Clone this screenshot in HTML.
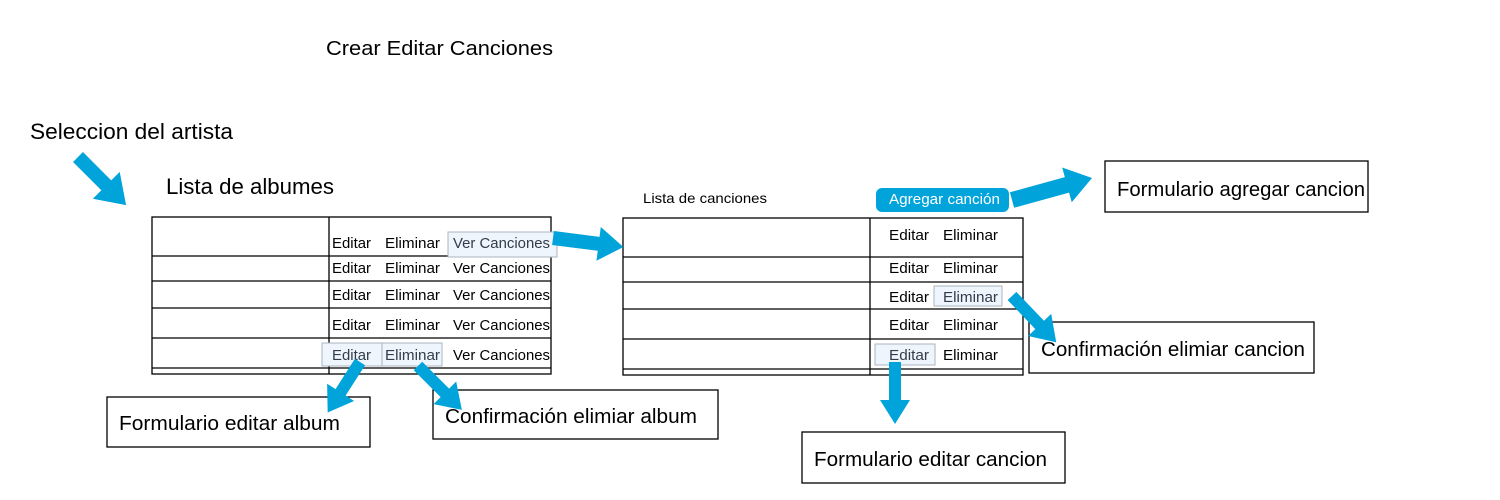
<!DOCTYPE html>
<html><head><meta charset="utf-8"><style>
html,body{margin:0;padding:0;background:#fff;width:1500px;height:500px;overflow:hidden}
svg text{font-family:"Liberation Sans",sans-serif;fill:#000}
</style></head><body>
<svg width="1500" height="500" xmlns="http://www.w3.org/2000/svg">
<defs>
<polygon id="ar" points="0,-7 -26,-7 -26,-19 0,0 -26,19 -26,7" />
</defs>
<text x="326" y="55" font-size="20" textLength="227" lengthAdjust="spacingAndGlyphs">Crear Editar Canciones</text>
<text x="30" y="139" font-size="22" textLength="203" lengthAdjust="spacingAndGlyphs">Seleccion del artista</text>
<text x="166" y="194" font-size="22" textLength="168" lengthAdjust="spacingAndGlyphs">Lista de albumes</text>
<text x="643" y="203" font-size="14" textLength="124" lengthAdjust="spacingAndGlyphs">Lista de canciones</text>

<!-- left table -->
<g fill="none" stroke="#000" stroke-width="1.3">
<rect x="152" y="217" width="399" height="157"/>
<line x1="329" y1="217" x2="329" y2="374"/>
<line x1="152" y1="256" x2="551" y2="256"/>
<line x1="152" y1="281" x2="551" y2="281"/>
<line x1="152" y1="308" x2="551" y2="308"/>
<line x1="152" y1="338" x2="551" y2="338"/>
<line x1="152" y1="368" x2="551" y2="368"/>
</g>
<g fill="#eef5fd" stroke="#aab4c0" stroke-width="1">
<rect x="448" y="232" width="109" height="25"/>
<rect x="322" y="343" width="60" height="23"/>
<rect x="382" y="343" width="60" height="23"/>
</g>
<g font-size="15">
<text x="332" y="248" textLength="39" lengthAdjust="spacingAndGlyphs">Editar</text><text x="385" y="248" textLength="55" lengthAdjust="spacingAndGlyphs">Eliminar</text><text x="453" y="248" textLength="97" lengthAdjust="spacingAndGlyphs" style="fill:#333c4a">Ver Canciones</text>
<text x="332" y="273" textLength="39" lengthAdjust="spacingAndGlyphs">Editar</text><text x="385" y="273" textLength="55" lengthAdjust="spacingAndGlyphs">Eliminar</text><text x="453" y="273" textLength="97" lengthAdjust="spacingAndGlyphs">Ver Canciones</text>
<text x="332" y="300" textLength="39" lengthAdjust="spacingAndGlyphs">Editar</text><text x="385" y="300" textLength="55" lengthAdjust="spacingAndGlyphs">Eliminar</text><text x="453" y="300" textLength="97" lengthAdjust="spacingAndGlyphs">Ver Canciones</text>
<text x="332" y="330" textLength="39" lengthAdjust="spacingAndGlyphs">Editar</text><text x="385" y="330" textLength="55" lengthAdjust="spacingAndGlyphs">Eliminar</text><text x="453" y="330" textLength="97" lengthAdjust="spacingAndGlyphs">Ver Canciones</text>
<text x="332" y="360" textLength="39" lengthAdjust="spacingAndGlyphs" style="fill:#333c4a">Editar</text><text x="385" y="360" textLength="55" lengthAdjust="spacingAndGlyphs" style="fill:#333c4a">Eliminar</text><text x="453" y="360" textLength="97" lengthAdjust="spacingAndGlyphs">Ver Canciones</text>
</g>

<!-- right table -->
<g fill="none" stroke="#000" stroke-width="1.3">
<rect x="623" y="218" width="400" height="157"/>
<line x1="870" y1="218" x2="870" y2="375"/>
<line x1="623" y1="257" x2="1023" y2="257"/>
<line x1="623" y1="282" x2="1023" y2="282"/>
<line x1="623" y1="309" x2="1023" y2="309"/>
<line x1="623" y1="339" x2="1023" y2="339"/>
<line x1="623" y1="369" x2="1023" y2="369"/>
</g>
<g fill="#eef5fd" stroke="#aab4c0" stroke-width="1">
<rect x="934" y="286" width="68" height="20"/>
<rect x="875" y="344" width="60" height="21"/>
</g>
<rect x="876" y="188" width="133" height="24" rx="6" fill="#00a4db"/>
<text x="889" y="204" font-size="15" textLength="111" lengthAdjust="spacingAndGlyphs" style="fill:#fff">Agregar canción</text>
<g font-size="15">
<text x="889" y="240" textLength="40" lengthAdjust="spacingAndGlyphs">Editar</text><text x="943" y="240" textLength="55" lengthAdjust="spacingAndGlyphs">Eliminar</text>
<text x="889" y="273" textLength="40" lengthAdjust="spacingAndGlyphs">Editar</text><text x="943" y="273" textLength="55" lengthAdjust="spacingAndGlyphs">Eliminar</text>
<text x="889" y="302" textLength="40" lengthAdjust="spacingAndGlyphs">Editar</text><text x="943" y="302" textLength="55" lengthAdjust="spacingAndGlyphs" style="fill:#333c4a">Eliminar</text>
<text x="889" y="330" textLength="40" lengthAdjust="spacingAndGlyphs">Editar</text><text x="943" y="330" textLength="55" lengthAdjust="spacingAndGlyphs">Eliminar</text>
<text x="889" y="360" textLength="40" lengthAdjust="spacingAndGlyphs" style="fill:#333c4a">Editar</text><text x="943" y="360" textLength="55" lengthAdjust="spacingAndGlyphs">Eliminar</text>
</g>

<!-- boxes -->
<g fill="#fff" stroke="#000" stroke-width="1.3">
<rect x="1105" y="161" width="263" height="51"/>
<rect x="1029" y="322" width="285" height="51"/>
<rect x="107" y="397" width="263" height="50"/>
<rect x="433" y="390" width="285" height="49"/>
<rect x="802" y="432" width="263" height="51"/>
</g>
<g font-size="20">
<text x="1117" y="196" textLength="248" lengthAdjust="spacingAndGlyphs">Formulario agregar cancion</text>
<text x="1041" y="356" textLength="264" lengthAdjust="spacingAndGlyphs">Confirmación elimiar cancion</text>
<text x="119" y="430" textLength="221" lengthAdjust="spacingAndGlyphs">Formulario editar album</text>
<text x="445" y="423" textLength="252" lengthAdjust="spacingAndGlyphs">Confirmación elimiar album</text>
<text x="814" y="466" textLength="233" lengthAdjust="spacingAndGlyphs">Formulario editar cancion</text>
</g>

<!-- arrows -->
<g fill="#00a4db">
<g transform="translate(78,157) rotate(45)"><polygon points="0,-7 40,-7 40,-19 68,0 40,19 40,7 0,7"/></g>
<g transform="translate(553,238) rotate(7.3)"><polygon points="0,-7 46,-7 46,-17 71,0 46,17 46,7 0,7"/></g>
<g transform="translate(360,362) rotate(122.6)"><polygon points="0,-6 36,-6 36,-16 60,0 36,16 36,6 0,6"/></g>
<g transform="translate(418,366) rotate(45)"><polygon points="0,-6 38,-6 38,-16 62,0 38,16 38,6 0,6"/></g>
<g transform="translate(1012,200) rotate(-15.4)"><polygon points="0,-8 57,-8 57,-18 83,0 57,18 57,8 0,8"/></g>
<g transform="translate(1012,296) rotate(46.3)"><polygon points="0,-6 40,-6 40,-16 64,0 40,16 40,6 0,6"/></g>
<g transform="translate(895,362) rotate(90)"><polygon points="0,-6 38,-6 38,-15 62,0 38,15 38,6 0,6"/></g>
</g>
</svg>
</body></html>
